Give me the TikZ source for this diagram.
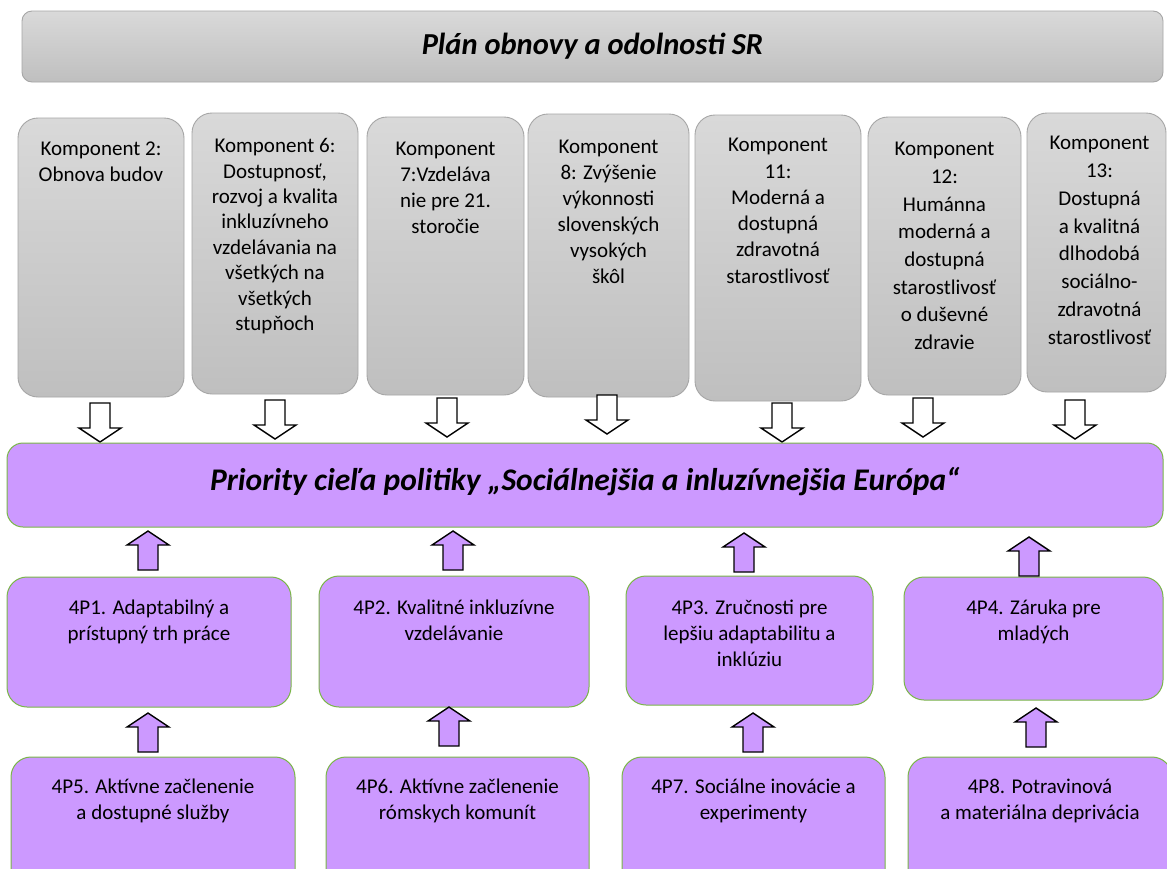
\documentclass[tikz,border=0pt]{standalone}
\usepackage{fontspec}
\setmainfont{Carlito}
\usetikzlibrary{fit}
\definecolor{kgraytop}{RGB}{217,217,217}
\definecolor{kgraybot}{RGB}{191,191,191}
\definecolor{kgrayline}{RGB}{166,166,166}
\definecolor{ppurple}{RGB}{204,153,255}
\definecolor{pgreen}{RGB}{122,182,72}
% uniform height of the first line of every box text
\newcommand\firstline{\rule{0pt}{17pt}}
\begin{document}
\begin{tikzpicture}[x=1pt,y=-1pt,
  graybox/.style={rectangle, rounded corners=20pt, draw=kgrayline, line width=0.9pt,
    top color=kgraytop, bottom color=kgraybot, inner sep=0pt},
  banner/.style={graybox, rounded corners=10pt},
  purplebox/.style={rectangle, rounded corners=20pt, draw=pgreen, line width=1pt,
    fill=ppurple, inner sep=0pt},
  prio/.style={purplebox, rounded corners=16pt},
  bodytext/.style={font=\fontsize{21}{26}\selectfont, align=center, inner sep=0pt, anchor=north},
  headtext/.style={font=\fontsize{30.5}{35}\selectfont\bfseries\itshape, inner sep=0pt, anchor=base},
  arrowline/.style={draw=black, line width=1.4pt, line join=miter},
  pics/downarr/.style={code={\path[arrowline, fill=white]
      (-10,0) -- (10,0) -- (10,25) -- (21,25) -- (0,39) -- (-21,25) -- (-10,25) -- cycle;}},
  pics/uparr/.style={code={\path[arrowline, fill=ppurple]
      (-10,39) -- (-10,14) -- (-21,14) -- (0,0) -- (21,14) -- (10,14) -- (10,39) -- cycle;}},
]
\clip (0,0) rectangle (1167,868);
\fill[white] (0,0) rectangle (1167,868);

% top banner
\node[banner, fit={(22,11) (1163,82)}] (plan) {};
\node[headtext] at ([yshift=-44pt]plan.north) {Plán obnovy a odolnosti SR};

% components of the recovery plan
\node[graybox, fit={(18,118) (184,397)}] (k1) {};
\node[graybox, fit={(192,113) (358,394)}] (k2) {};
\node[graybox, fit={(367,117) (524,395)}] (k3) {};
\node[graybox, fit={(528,114) (689,397)}] (k4) {};
\node[graybox, fit={(695,115) (861,401)}] (k5) {};
\node[graybox, fit={(868,117) (1021,395)}] (k6) {};
\node[graybox, fit={(1027,113) (1166,392)}] (k7) {};

\node[bodytext] at ([yshift=-21pt]k1.north) {\firstline Komponent 2:\\Obnova budov};
\node[bodytext, font=\fontsize{21}{25.4}\selectfont] at ([yshift=-23pt]k2.north)
  {\firstline Komponent 6:\\Dostupnosť,\\rozvoj a kvalita\\inkluzívneho\\vzdelávania na\\všetkých na\\všetkých\\stupňoch};
\node[bodytext] at ([yshift=-22pt]k3.north) {\firstline Komponent\\7:Vzdeláva\\nie pre 21.\\storočie};
\node[bodytext] at ([yshift=-23pt]k4.north) {\firstline Komponent\\8: Zvýšenie\\výkonnosti\\slovenských\\vysokých\\škôl};
\node[bodytext, font=\fontsize{21}{26.3}\selectfont] at ([yshift=-20pt]k5.north)
  {\firstline Komponent\\11:\\Moderná a\\dostupná\\zdravotná\\starostlivosť};
\node[bodytext, font=\fontsize{21}{27.7}\selectfont] at ([yshift=-22pt]k6.north)
  {\firstline Komponent\\12:\\Humánna\\moderná a\\dostupná\\starostlivosť\\o duševné\\zdravie};
\node[bodytext, font=\fontsize{21}{27.8}\selectfont] at ([xshift=3pt,yshift=-20pt]k7.north)
  {\firstline Komponent\\13:\\Dostupná\\a kvalitná\\dlhodobá\\sociálno-\\zdravotná\\starostlivosť};

% hollow arrows from the components down to the policy objective
\coordinate (d1) at (100,403);
\coordinate (d2) at (275,400);
\coordinate (d3) at (447,398);
\coordinate (d4) at (607,395);
\coordinate (d5) at (782,403);
\coordinate (d6) at (923,398);
\coordinate (d7) at (1075,400);
\foreach \d in {d1,d2,d3,d4,d5,d6,d7} \pic at (\d) {downarr};

% policy objective
\node[prio, fit={(7,443) (1163,527)}] (goal) {};
\node[headtext, font=\fontsize{31.5}{36}\selectfont\bfseries\itshape] at ([yshift=-48pt]goal.north)
  {Priority cieľa politiky „Sociálnejšia a inluzívnejšia Európa“};

% specific priorities, upper row
\node[purplebox, fit={(7,577) (291,707)}] (p1) {};
\node[purplebox, fit={(319,576) (589,707)}] (p2) {};
\node[purplebox, fit={(626,576) (873,705)}] (p3) {};
\node[purplebox, fit={(904,577) (1163,700)}] (p4) {};
\node[bodytext] at ([yshift=-21pt]p1.north) {\firstline 4P1. Adaptabilný a\\prístupný trh práce};
\node[bodytext] at ([yshift=-22pt]p2.north) {\firstline 4P2. Kvalitné inkluzívne\\vzdelávanie};
\node[bodytext] at ([yshift=-22pt]p3.north) {\firstline 4P3. Zručnosti pre\\lepšiu adaptabilitu a\\inklúziu};
\node[bodytext] at ([yshift=-21pt]p4.north) {\firstline 4P4. Záruka pre\\mladých};

% specific priorities, lower row
\node[purplebox, fit={(11,757) (295,890)}] (p5) {};
\node[purplebox, fit={(326,757) (589,890)}] (p6) {};
\node[purplebox, fit={(622,757) (885,890)}] (p7) {};
\node[purplebox, fit={(908,757) (1172,890)}] (p8) {};
\node[bodytext] at ([yshift=-20pt]p5.north) {\firstline 4P5. Aktívne začlenenie\\a dostupné služby};
\node[bodytext] at ([yshift=-20pt]p6.north) {\firstline 4P6. Aktívne začlenenie\\rómskych komunít};
\node[bodytext] at ([yshift=-20pt]p7.north) {\firstline 4P7. Sociálne inovácie a\\experimenty};
\node[bodytext] at ([yshift=-20pt]p8.north) {\firstline 4P8. Potravinová\\a materiálna deprivácia};

% filled arrows pointing upwards
\coordinate (u1) at (148,531);
\coordinate (u2) at (453,531);
\coordinate (u3) at (744,533);
\coordinate (u4) at (1029,537);
\coordinate (u5) at (148,713);
\coordinate (u6) at (449,707);
\coordinate (u7) at (753,713);
\coordinate (u8) at (1036,708);
\foreach \u in {u1,u2,u3,u4,u5,u6,u7,u8} \pic at (\u) {uparr};
\end{tikzpicture}
\end{document}
